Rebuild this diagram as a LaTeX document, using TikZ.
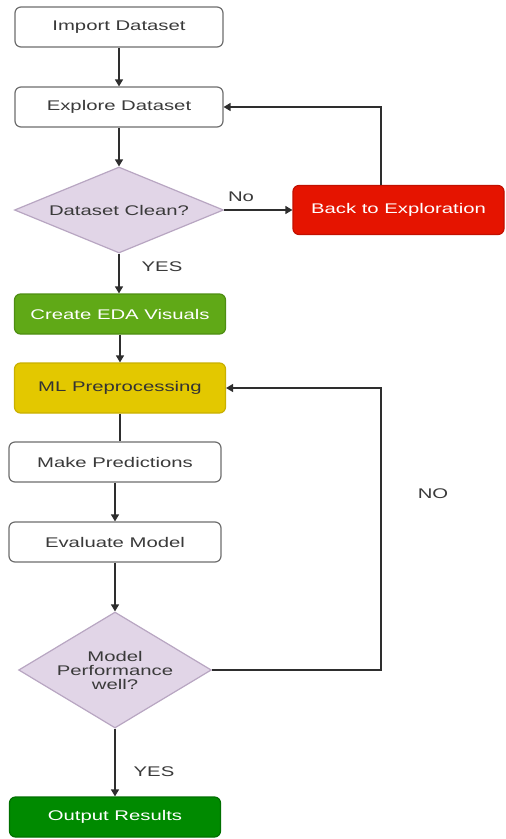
\documentclass[tikz,border=0pt]{standalone}
\usepackage{fontspec}
\newfontfamily\wfont[FakeStretch=1.45]{Liberation Sans}
\usetikzlibrary{shapes.geometric,arrows.meta}
\definecolor{boxline}{HTML}{6E6E6E}
\definecolor{txt}{HTML}{3A3A3A}
\definecolor{lavfill}{HTML}{E1D5E7}
\definecolor{lavline}{HTML}{B8A6C2}
\definecolor{redfill}{HTML}{E51400}
\definecolor{redline}{HTML}{C21000}
\definecolor{lgfill}{HTML}{60A917}
\definecolor{lgline}{HTML}{4E8E12}
\definecolor{yfill}{HTML}{E3C800}
\definecolor{yline}{HTML}{C9B000}
\definecolor{dgfill}{HTML}{008A00}
\definecolor{dgline}{HTML}{007000}
\definecolor{arr}{HTML}{2E2E2E}
\begin{document}
\begin{tikzpicture}[x=1pt,y=-1pt,
  font=\wfont\fontsize{14}{15}\selectfont,
  base/.style={rectangle,rounded corners=6pt,line width=1.2pt,inner sep=0pt,text=txt,align=center},
  plain/.style={base,draw=boxline,fill=white},
  dec/.style={diamond,draw=lavline,fill=lavfill,line width=1.2pt,inner sep=0pt,aspect=2,text=txt,align=center},
  lbl/.style={text=txt,inner sep=0pt},
  conn/.style={draw=arr,line width=1.4pt},
  arrw/.style={conn,-{Triangle[length=7pt,width=8pt]}}]
\useasboundingbox[fill=white] (0,0) rectangle (506,839);
% nodes
\node[plain,minimum width=208pt,minimum height=40pt] (imp) at (119,27) {Import Dataset};
\node[plain,minimum width=208pt,minimum height=40pt] (exp) at (119,107) {Explore Dataset};
\node[dec,minimum width=209pt,minimum height=86pt] (dc) at (119,210) {Dataset Clean?};
\node[base,draw=redline,fill=redfill,text=white,minimum width=211pt,minimum height=49pt] (back) at (398.5,210) {Back to Exploration};
\node[base,draw=lgline,fill=lgfill,text=white,minimum width=211pt,minimum height=40pt] (eda) at (120,314) {Create EDA Visuals};
\node[base,draw=yline,fill=yfill,text=black!80,minimum width=211pt,minimum height=50pt] (ml) at (120,388) {ML Preprocessing};
\node[plain,minimum width=212pt,minimum height=40pt] (mp) at (115,462) {Make Predictions};
\node[plain,minimum width=212pt,minimum height=40pt] (ev) at (115,542) {Evaluate Model};
\node[dec,minimum width=191pt,minimum height=116pt] (mpw) at (115,670) {Model\\[-1pt]Performance\\[-1pt]well?};
\node[base,draw=dgline,fill=dgfill,text=white,minimum width=211pt,minimum height=40pt] (out) at (115,817) {Output Results};
% labels
\node[lbl] (lno1) at (241,197) {No};
\node[lbl] (lyes1) at (162,267) {YES};
\node[lbl] (lno2) at (433,494) {NO};
\node[lbl] (lyes2) at (154,772) {YES};
% loop corners
\coordinate (c1) at (381,107);
\coordinate (c2) at (381,388);
% connectors
\draw[arrw] (imp.south) -- (exp.north);
\draw[arrw] (exp.south) -- (dc.north);
\draw[arrw] (dc.east) -- (back.west);
\draw[arrw] (back.north -| c1) -- (c1) -- (exp.east);
\draw[arrw] (dc.south) -- (dc.south |- eda.north);
\draw[arrw] (eda.south) -- (ml.north);
\draw[conn] (ml.south) -- (ml.south |- mp.north);
\draw[arrw] (mp.south) -- (ev.north);
\draw[arrw] (ev.south) -- (mpw.north);
\draw[arrw] (mpw.east) -- (mpw.east -| c2) -- (c2) -- (ml.east);
\draw[arrw] (mpw.south) -- (out.north);
\end{tikzpicture}
\end{document}
